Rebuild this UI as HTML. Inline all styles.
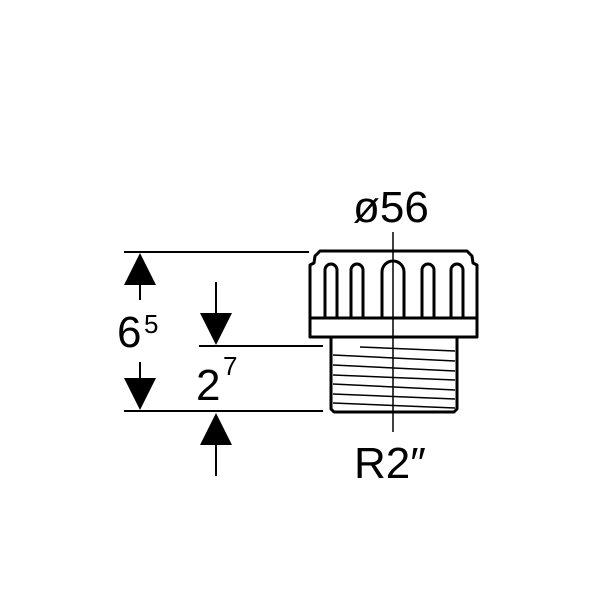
<!DOCTYPE html>
<html><head><meta charset="utf-8"><style>html,body{margin:0;padding:0;background:#fff}svg{display:block}</style></head>
<body>
<svg width="600" height="600" viewBox="0 0 600 600" xmlns="http://www.w3.org/2000/svg" font-family="Liberation Sans, sans-serif">
<g stroke="#000" stroke-width="2" fill="none">
<line x1="124" y1="252" x2="309" y2="252"/>
<line x1="199" y1="346" x2="323" y2="346"/>
<line x1="124" y1="411" x2="323" y2="411"/>
<line x1="140" y1="280" x2="140" y2="300"/>
<line x1="140" y1="362" x2="140" y2="385"/>
<line x1="216" y1="282" x2="216" y2="318"/>
<line x1="216" y1="440" x2="216" y2="476"/>
</g>
<g fill="#000">
<polygon points="140,253 124,285 156,285"/>
<polygon points="140,410 124,378 156,378"/>
<polygon points="216,345 200,313 232,313"/>
<polygon points="216,413 200,445 232,445"/>
</g>
<text x="117" y="347" font-size="44">6</text>
<text x="144" y="333" font-size="26">5</text>
<text x="196" y="400" font-size="44">2</text>
<text x="223" y="375" font-size="26">7</text>
<text x="353" y="222" font-size="44">ø56</text>
<text x="354" y="478" font-size="44">R2″</text>
<g stroke="#000" stroke-width="3" fill="none" stroke-linejoin="round">
<path d="M310,318 L310,265 L314,263 L315,256 L320,251 L467,251 L472,256 L473,263 L477,265 L477,318"/>
<rect x="310" y="318" width="167" height="19"/>
<path d="M331,337 L331,409 L334,412 L454,412 L457,409 L457,337"/>
<path d="M325,317 L325,270 A6,6 0 0 1 337,270 L337,317"/>
<path d="M351,317 L351,270 A6,6 0 0 1 363,270 L363,317"/>
<path d="M382,317 L382,272 A11,11 0 0 1 404,272 L404,317"/>
<path d="M422,317 L422,270 A6,6 0 0 1 434,270 L434,317"/>
<path d="M451,317 L451,270 A6,6 0 0 1 463,270 L463,317"/>
</g>
<g stroke="#000" stroke-width="1.5">
<line x1="360" y1="347" x2="455" y2="351"/>
<line x1="333" y1="355" x2="455" y2="361"/>
<line x1="333" y1="365" x2="455" y2="371"/>
<line x1="333" y1="375" x2="455" y2="380"/>
<line x1="333" y1="384" x2="455" y2="390"/>
<line x1="333" y1="394" x2="455" y2="399"/>
<line x1="333" y1="403" x2="455" y2="408"/>
<line x1="393" y1="232" x2="393" y2="432"/>
</g>
</svg>
</body></html>
